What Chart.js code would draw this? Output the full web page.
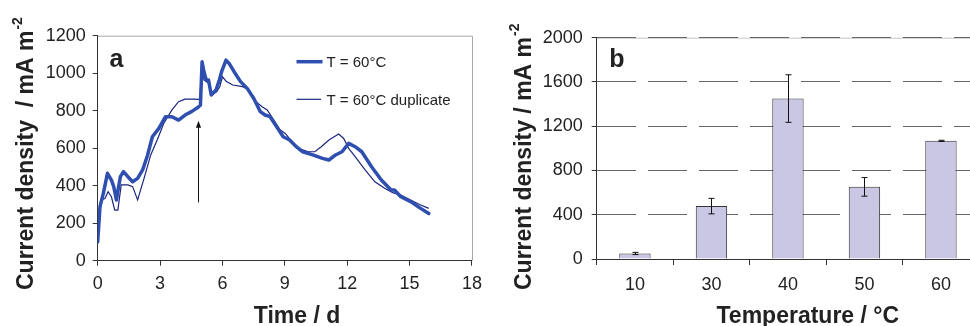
<!DOCTYPE html>
<html>
<head>
<meta charset="utf-8">
<script src="https://cdn.jsdelivr.net/npm/chart.js@4/dist/chart.umd.min.js"></script>
<style>
  html, body { margin: 0; padding: 0; background: #fff; overflow: hidden; width: 970px; height: 326px; }
  #wa { position: absolute; left: 0; top: 0; width: 490px; height: 326px; }
  #wb { position: absolute; left: 500px; top: 0; width: 470px; height: 326px; overflow: hidden; }
</style>
</head>
<body>
<div id="wa"><canvas id="ca" width="490" height="326"></canvas></div>
<div id="wb"><canvas id="cb" width="480" height="326"></canvas></div>
<script>
// ---------- Panel a data (Time / d vs current density) ----------
const timeRun1 = [0,0.11,0.27,0.47,0.66,0.77,0.9,0.98,1.09,1.24,1.45,1.68,1.92,2.16,2.39,2.63,2.94,3.26,3.57,3.89,4.2,4.51,4.83,4.94,5.02,5.11,5.22,5.33,5.46,5.69,5.85,5.96,6.17,6.32,6.56,6.87,7.19,7.5,7.82,8.05,8.29,8.6,8.92,9.23,9.55,9.86,10.34,10.81,11.12,11.44,11.75,12.07,12.38,12.7,13.17,13.64,14.11,14.27,14.58,15.05,15.53,15.92];
const currentRun1 = [101,288,359,466,430,395,324,377,448,475,448,421,439,484,560,661,706,768,768,750,777,795,818,830,1061,1008,964,964,884,910,964,1008,1070,1052,1008,955,919,866,795,777,768,715,661,644,608,581,564,546,537,564,581,626,608,581,501,430,377,377,341,315,279,252];
const timeRun2 = [0,0.16,0.35,0.5,0.66,0.82,0.97,1.13,1.45,1.68,1.92,2.23,2.55,2.86,3.18,3.57,3.89,4.2,4.51,4.91,5.02,5.11,5.33,5.46,5.72,5.87,6.0,6.19,6.5,6.97,7.28,7.6,7.91,8.15,8.47,8.78,9.02,9.34,9.65,10.13,10.44,10.75,11.12,11.59,11.83,12.07,12.38,12.86,13.33,13.8,14.19,14.58,15.05,15.53,15.92];
const currentRun2 = [110,324,332,368,341,270,270,404,404,395,324,439,564,644,733,804,848,862,862,860,1050,964,946,884,901,928,981,955,937,928,910,848,821,804,750,697,679,635,599,581,581,608,644,676,652,599,555,484,421,386,363,350,324,297,279];
const seriesNamesA = ["T = 60°C", "T = 60°C duplicate"];
const arrowTime = 4.82;
const arrowFrom = 311;
const arrowTo = 747;
const xTicksA = [0, 3, 6, 9, 12, 15, 18];
const yTicksA = [0, 200, 400, 600, 800, 1000, 1200];

// ---------- Panel b data (Temperature vs current density) ----------
const temperatures = ["10", "30", "40", "50", "60"];
const meanCurrent = [50, 478, 1450, 652, 1068];
const errCurrent = [10, 70, 215, 84, 5];
const yTicksB = [0, 400, 800, 1200, 1600, 2000];

const FONT = "'Liberation Sans', Arial, Helvetica, sans-serif";
const TXT = '#222';

function drawRotTitle(ctx, main, sup, baseX, startY, size) {
  ctx.save();
  ctx.translate(baseX, startY);
  ctx.rotate(-Math.PI / 2);
  ctx.fillStyle = TXT;
  ctx.textBaseline = 'alphabetic';
  ctx.textAlign = 'left';
  ctx.font = 'bold ' + size + 'px ' + FONT;
  ctx.fillText(main, 0, 0);
  const w = ctx.measureText(main).width;
  ctx.font = 'bold ' + Math.round(size * 0.62) + 'px ' + FONT;
  ctx.fillText(sup, w + 1, -size * 0.5);
  ctx.restore();
}
function drawCenterText(ctx, text, cx, baseY, font) {
  ctx.save();
  ctx.fillStyle = TXT;
  ctx.font = font;
  ctx.textAlign = 'center';
  ctx.textBaseline = 'alphabetic';
  ctx.fillText(text, cx, baseY);
  ctx.restore();
}
const plainNum = v => String(v);

// ---------- Chart a ----------
const decoA = {
  id: 'decoA',
  beforeDraw(chart) {
    const {ctx, chartArea: a} = chart;
    ctx.save();
    ctx.strokeStyle = '#a8a8a8';
    ctx.lineWidth = 1;
    ctx.beginPath();
    ctx.moveTo(a.left, a.top + 0.5);
    ctx.lineTo(a.right + 0.5, a.top + 0.5);
    ctx.lineTo(a.right + 0.5, a.bottom);
    ctx.stroke();
    ctx.restore();
  },
  afterDraw(chart) {
    const {ctx, scales: {x, y}} = chart;
    const ax = Math.round(x.getPixelForValue(arrowTime)) + 0.5;
    const y0 = y.getPixelForValue(arrowFrom);
    const y1 = y.getPixelForValue(arrowTo);
    ctx.save();
    ctx.strokeStyle = '#111';
    ctx.fillStyle = '#111';
    ctx.lineWidth = 1;
    ctx.beginPath();
    ctx.moveTo(ax, y0);
    ctx.lineTo(ax, y1 + 5);
    ctx.stroke();
    ctx.beginPath();
    ctx.moveTo(ax, y1);
    ctx.lineTo(ax - 2.6, y1 + 7);
    ctx.lineTo(ax + 2.6, y1 + 7);
    ctx.closePath();
    ctx.fill();
    // legend
    ctx.strokeStyle = '#2e4fb0';
    ctx.lineWidth = 3.5;
    ctx.beginPath(); ctx.moveTo(296.5, 61.7); ctx.lineTo(322.5, 61.7); ctx.stroke();
    ctx.strokeStyle = '#1c2580';
    ctx.lineWidth = 1.2;
    ctx.beginPath(); ctx.moveTo(296.5, 99.3); ctx.lineTo(321, 99.3); ctx.stroke();
    ctx.fillStyle = TXT;
    ctx.font = '15px ' + FONT;
    ctx.textBaseline = 'alphabetic';
    ctx.textAlign = 'left';
    ctx.fillText(seriesNamesA[0], 326.5, 67.3);
    ctx.fillText(seriesNamesA[1], 326.5, 104.8);
    ctx.font = 'bold 25px ' + FONT;
    ctx.fillText('a', 109.5, 66.7);
    ctx.restore();
    drawRotTitle(ctx, 'Current density  / mA m', '-2', 33.3, 290, 23);
    drawCenterText(ctx, 'Time / d', 297, 323, 'bold 23px ' + FONT);
  }
};

new Chart(document.getElementById('ca'), {
  type: 'line',
  data: {
    datasets: [
      {
        label: seriesNamesA[0],
        data: timeRun1.map((t, i) => ({x: t, y: currentRun1[i]})),
        borderColor: '#2e4fb0',
        borderWidth: 3.5,
        pointRadius: 0,
        tension: 0,
        borderJoinStyle: 'round',
        borderCapStyle: 'round'
      },
      {
        label: seriesNamesA[1],
        data: timeRun2.map((t, i) => ({x: t, y: currentRun2[i]})),
        borderColor: '#1c2580',
        borderWidth: 1.2,
        pointRadius: 0,
        tension: 0
      }
    ]
  },
  options: {
    responsive: false,
    animation: false,
    devicePixelRatio: 1,
    layout: { padding: { left: 0, top: 35.7, right: 12.3, bottom: 0 } },
    plugins: { legend: { display: false }, tooltip: { enabled: false } },
    scales: {
      x: {
        type: 'linear',
        min: 0, max: 18,
        afterBuildTicks(s) { s.ticks = xTicksA.map(v => ({value: v})); },
        afterFit(s) { s.height = 65.3; },
        ticks: { color: TXT, font: { family: FONT, size: 18 }, padding: 8, maxRotation: 0, callback: plainNum },
        grid: { display: true, drawOnChartArea: false, drawTicks: true, tickLength: 5, color: '#333' },
        border: { display: true, color: '#333', width: 1 }
      },
      y: {
        min: 0, max: 1200,
        afterBuildTicks(s) { s.ticks = yTicksA.map(v => ({value: v})); },
        afterFit(s) { s.width = 97.7; },
        ticks: { color: TXT, font: { family: FONT, size: 18 }, padding: 7, callback: plainNum },
        grid: { display: true, drawOnChartArea: false, drawTicks: true, tickLength: 5, color: '#333' },
        border: { display: true, color: '#333', width: 1 }
      }
    }
  },
  plugins: [decoA]
});

// ---------- Chart b ----------
const decoB = {
  id: 'decoB',
  beforeDraw(chart) {
    const {ctx, chartArea: a} = chart;
    ctx.save();
    ctx.strokeStyle = '#c4c4c4';
    ctx.lineWidth = 1;
    ctx.beginPath();
    ctx.moveTo(a.left, a.top + 0.5);
    ctx.lineTo(a.right, a.top + 0.5);
    ctx.stroke();
    ctx.restore();
  },
  afterDatasetsDraw(chart) {
    const {ctx, scales: {x, y}} = chart;
    ctx.save();
    ctx.strokeStyle = '#111';
    ctx.lineWidth = 1;
    meanCurrent.forEach((m, i) => {
      const px = Math.round(x.getPixelForValue(i)) + 0.5;
      const top = y.getPixelForValue(m + errCurrent[i]);
      const bot = y.getPixelForValue(m - errCurrent[i]);
      ctx.beginPath();
      ctx.moveTo(px, top); ctx.lineTo(px, bot);
      ctx.moveTo(px - 3, top); ctx.lineTo(px + 3, top);
      ctx.moveTo(px - 3, bot); ctx.lineTo(px + 3, bot);
      ctx.stroke();
    });
    ctx.restore();
  },
  afterDraw(chart) {
    const {ctx} = chart;
    ctx.save();
    ctx.fillStyle = TXT;
    ctx.font = 'bold 25px ' + FONT;
    ctx.textBaseline = 'alphabetic';
    ctx.textAlign = 'left';
    ctx.fillText('b', 109.3, 66.7);
    ctx.restore();
    drawRotTitle(ctx, 'Current density / mA m', '-2', 30.7, 290, 23);
    drawCenterText(ctx, 'Temperature / °C', 307.8, 323, 'bold 23px ' + FONT);
  }
};

new Chart(document.getElementById('cb'), {
  type: 'bar',
  data: {
    labels: temperatures,
    datasets: [{
      data: meanCurrent,
      backgroundColor: '#c9c7e4',
      borderColor: '#333',
      borderWidth: 1,
      barPercentage: 0.41,
      categoryPercentage: 1
    }]
  },
  options: {
    responsive: false,
    animation: false,
    devicePixelRatio: 1,
    layout: { padding: { left: 0, top: 37.7, right: 0.8, bottom: 0 } },
    plugins: { legend: { display: false }, tooltip: { enabled: false } },
    scales: {
      x: {
        afterFit(s) { s.height = 67; },
        ticks: { color: TXT, font: { family: FONT, size: 18 }, padding: 9 },
        grid: { display: true, offset: true, drawOnChartArea: false, drawTicks: true, tickLength: 6, color: '#333' },
        border: { display: true, color: '#333', width: 1 }
      },
      y: {
        min: 0, max: 2000,
        afterBuildTicks(s) { s.ticks = yTicksB.map(v => ({value: v})); },
        afterFit(s) { s.width = 96.7; },
        ticks: { color: TXT, font: { family: FONT, size: 18 }, padding: 9, callback: plainNum },
        grid: { display: true, drawOnChartArea: true, drawTicks: true, tickLength: 5, color: '#666', tickColor: '#333', tickBorderDash: [] },
        border: { display: true, color: '#333', width: 1, dash: [39, 12] }
      }
    }
  },
  plugins: [decoB]
});
</script>
</body>
</html>
